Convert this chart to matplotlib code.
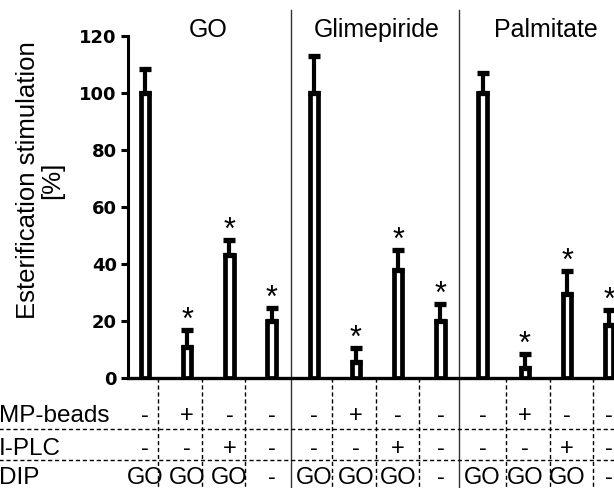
import matplotlib
matplotlib.use('Agg')
import matplotlib.pyplot as plt
import numpy as np

plt.rcParams['font.family'] = 'Liberation Sans'

# data
groups = ['GO', 'Glimepiride', 'Palmitate']
means = [100, 11, 43, 20, 100, 5.5, 38, 20, 100, 3.5, 29.5, 18.5]
errs = [8.5, 6, 5.5, 4.6, 13, 5, 7, 6, 7, 5, 8, 5.5]
signif = [False, True, True, True] * 3

rowLabels = ['MP-beads', 'I-PLC', 'DIP']
mpBeads = ['-', '+', '-', '-'] * 3
plc = ['-', '-', '+', '-'] * 3
dip = ['GO', 'GO', 'GO', '-'] * 3
tableRows = [mpBeads, plc, dip]

yticks = [0, 20, 40, 60, 80, 100, 120]

# layout (pixels of the 614x488 picture)
W, H = 614, 488
x0pix, y0pix = 128, 378
pxPerBar = 42.2
pxPerUnit = 2.85
firstBar = 145

fig = plt.figure(figsize=(W/100, H/100), dpi=100)
ax = fig.add_axes([x0pix/W, (H-y0pix)/H, (W-x0pix)/W, (y0pix-36)/H])

x = np.arange(len(means))
ax.bar(x, means, width=0.2, color='white', edgecolor='black', linewidth=3.4, zorder=2)
ax.errorbar(x, means, yerr=[np.zeros(len(errs)), errs], fmt='none', ecolor='black',
            elinewidth=3, capsize=4, capthick=3.8, zorder=3)

for xi, m, e, s in zip(x, means, errs, signif):
    if s:
        ax.text(xi, m + e + 0.4, '*', ha='center', va='baseline', fontsize=22)

ax.set_xlim((x0pix - firstBar)/pxPerBar, (W - firstBar)/pxPerBar)
ax.set_ylim(0, 120)
ax.set_yticks(yticks)
ax.set_xticks([])
for s in ['top', 'right']:
    ax.spines[s].set_visible(False)
ax.spines['left'].set_linewidth(2.2)
ax.spines['bottom'].set_linewidth(2.4)
ax.tick_params(axis='y', direction='out', length=5, width=2.2, pad=3)
for lab in ax.get_yticklabels():
    lab.set_fontfamily('DejaVu Sans')
    lab.set_fontweight('bold')
    lab.set_fontsize(13)

fig.text(40/W, 1 - 180/H, 'Esterification stimulation\n[%]', rotation=90,
         ha='center', va='center', fontsize=18.5, linespacing=1.05, multialignment='center')

def pix2y(p):
    return (y0pix - p)/pxPerUnit

# group headings and separators
for g, name in enumerate(groups):
    ax.text(g*4 + 1.5, pix2y(37), name, ha='center', va='baseline', fontsize=18, clip_on=False)
for sep in [3.45, 7.45]:
    ax.plot([sep, sep], [pix2y(488), pix2y(10)], color='#333333', lw=1.0, clip_on=False, zorder=1)

# table below the axis
xLeft = -x0pix/pxPerBar - 0.5
xRight = (W - firstBar)/pxPerBar + 0.2
for yp in [429, 460]:
    ax.plot([xLeft, xRight], [pix2y(yp)]*2, color='black', lw=1, linestyle=(0, (3, 2)), clip_on=False)
for k in range(11):
    if k in (3, 7):
        continue
    xe = 0.31 + 1.031*k
    ax.plot([xe, xe], [0, pix2y(490)], color='black', lw=1, linestyle=(0, (3, 2)), clip_on=False)

rowBase = [422, 455, 484]
for r, (lab, vals) in enumerate(zip(rowLabels, tableRows)):
    fig.text(-1/W, 1 - rowBase[r]/H, lab, ha='left', va='baseline', fontsize=17.5)
    for xi, v in zip(x, vals):
        ax.text(xi, pix2y(rowBase[r]), v, ha='center', va='baseline', fontsize=17, clip_on=False)

plt.savefig('out.png', dpi=100)
plt.close(fig)
